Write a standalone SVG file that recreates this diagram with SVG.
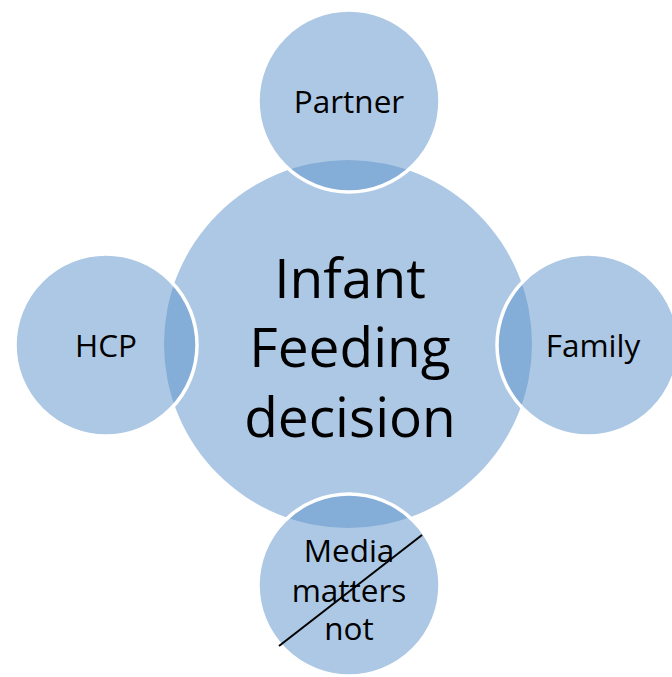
<svg xmlns="http://www.w3.org/2000/svg" width="672" height="677" viewBox="0 0 672 677">
<style>
.hub{fill:#adc8e4}
.sat{fill:rgb(91,145,201);fill-opacity:0.5;stroke:#fff;stroke-width:3.5}
.lbl{font-family:"Open Sans","Noto Sans",sans-serif;font-size:31.5px;fill:#000;text-anchor:middle}
.big{font-family:"Open Sans","Noto Sans",sans-serif;font-size:55px;fill:#000;text-anchor:middle}
</style>
<rect width="672" height="677" fill="#fff"/>
<g id="center">
<circle class="hub" cx="348" cy="344" r="184"/>
</g>
<g id="nodes">
<g id="n-partner"><circle class="sat" cx="349" cy="101" r="91"/><text class="lbl" x="349" y="113">Partner</text></g>
<g id="n-hcp"><circle class="sat" cx="106" cy="345" r="91"/><text class="lbl" x="106" y="357">HCP</text></g>
<g id="n-family"><circle class="sat" cx="588" cy="345" r="91"/><text class="lbl" x="593" y="357">Family</text></g>
<g id="n-media"><circle class="sat" cx="349" cy="585" r="91"/>
<text class="lbl" x="349" y="562">Media</text>
<text class="lbl" x="349" y="602">matters</text>
<text class="lbl" x="349" y="640">not</text>
<line x1="279" y1="646" x2="422" y2="535" stroke="#000" stroke-width="2"/>
</g>
</g>
<g id="center-text">
<text class="big" x="350" y="298">Infant</text>
<text class="big" x="350" y="367">Feeding</text>
<text class="big" x="350" y="437">decision</text>
</g>
<g id="connectors"/>
</svg>
